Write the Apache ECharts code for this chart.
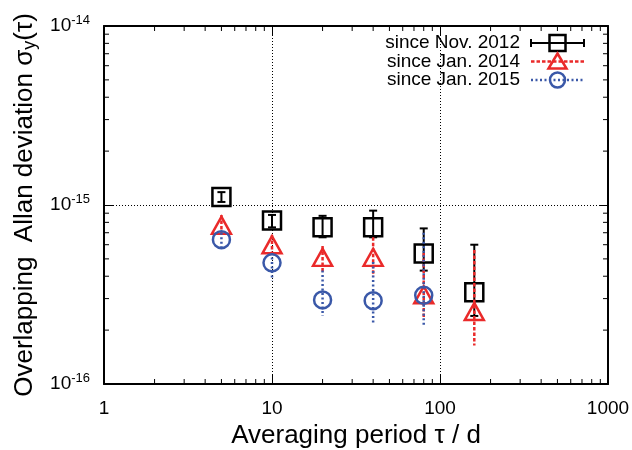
<!DOCTYPE html>
<html>
<head>
<meta charset="utf-8">
<title>Overlapping Allan deviation</title>
<script src="https://cdn.jsdelivr.net/npm/echarts@6/dist/echarts.min.js"></script>
<style>
  html, body { margin: 0; padding: 0; background: #fff; }
  #chart { width: 632px; height: 450px; }
</style>
</head>
<body>
<div id="chart"></div>
<script>
// Averaging periods (days)
const tau = [5, 10, 20, 40, 80, 160];
const tau2015 = [5, 10, 20, 40, 80];

// since Nov. 2012: value, lower and upper error limits
const nov2012 = [1.11e-15, 8.2e-16, 7.5e-16, 7.5e-16, 5.35e-16, 3.25e-16];
const nov2012Lo = [1.04e-15, 7.5e-16, 6.6e-16, 6.6e-16, 4.3e-16, 2.4e-16];
const nov2012Hi = [1.18e-15, 8.8e-16, 8.7e-16, 9.3e-16, 7.4e-16, 6.0e-16];

// since Jan. 2014
const jan2014 = [7.7e-16, 6.0e-16, 5.1e-16, 5.1e-16, 3.15e-16, 2.54e-16];
const jan2014Lo = [6.8e-16, 5.2e-16, 4.2e-16, 4.0e-16, 2.3e-16, 1.64e-16];
const jan2014Hi = [8.8e-16, 6.8e-16, 5.9e-16, 6.6e-16, 5.4e-16, 5.6e-16];

// since Jan. 2015
const jan2015 = [6.4e-16, 4.75e-16, 2.95e-16, 2.92e-16, 3.13e-16];
const jan2015Lo = [5.6e-16, 3.8e-16, 2.4e-16, 2.2e-16, 2.1e-16];
const jan2015Hi = [7.0e-16, 5.4e-16, 4.3e-16, 4.8e-16, 7.0e-16];

const seriesNames = ['since Nov. 2012', 'since Jan. 2014', 'since Jan. 2015'];

// Axis ranges
const xMin = 1, xMax = 1000;
const yMin = 1e-16, yMax = 1e-14;

const FONT = '"Liberation Sans", Arial, Helvetica, sans-serif';
const BLACK = '#000000';
const RED = '#ea2a2a';
const BLUE = '#3a58a8';

// minor tick values (2..9 per decade)
function minorValues(lo, hi) {
  const out = [];
  for (let d = Math.round(Math.log10(lo)); d < Math.round(Math.log10(hi)); d++) {
    for (let k = 2; k <= 9; k++) out.push(k * Math.pow(10, d));
  }
  return out;
}
const xMinorTicks = minorValues(xMin, xMax);
const yMinorTicks = minorValues(yMin, yMax);

function errorBarRenderer(lineStyle, capHalf) {
  return function (params, api) {
    const x = api.value(0);
    const lo = api.coord([x, api.value(1)]);
    const hi = api.coord([x, api.value(2)]);
    const children = [{
      type: 'line',
      shape: { x1: hi[0], y1: hi[1], x2: lo[0], y2: lo[1] },
      style: Object.assign({}, lineStyle)
    }];
    if (capHalf > 0) {
      [hi, lo].forEach(p => children.push({
        type: 'line',
        shape: { x1: p[0] - capHalf, y1: p[1], x2: p[0] + capHalf, y2: p[1] },
        style: { stroke: lineStyle.stroke, lineWidth: lineStyle.lineWidth }
      }));
    }
    return { type: 'group', children };
  };
}

const frameLine = { show: true, lineStyle: { color: BLACK, width: 2 } };
const majorTick = { show: true, inside: true, length: 9, lineStyle: { color: BLACK, width: 1 } };
const gridLine = { show: true, lineStyle: { color: BLACK, width: 1, type: [1, 2] } };

const styles = [
  { color: BLACK, line: { stroke: BLACK, lineWidth: 2 }, cap: 4, symbol: 'rect', size: 18 },
  { color: RED, line: { stroke: RED, lineWidth: 2.5, lineDash: [3.5, 2] }, cap: 0, symbol: 'triangle', size: [19, 17] },
  { color: BLUE, line: { stroke: BLUE, lineWidth: 2.5, lineDash: [2, 2.5] }, cap: 0, symbol: 'circle', size: 17 }
];

const groups = [
  { x: tau, y: nov2012, lo: nov2012Lo, hi: nov2012Hi },
  { x: tau, y: jan2014, lo: jan2014Lo, hi: jan2014Hi },
  { x: tau2015, y: jan2015, lo: jan2015Lo, hi: jan2015Hi }
];

const series = [];
groups.forEach((g, i) => {
  const s = styles[i];
  series.push({
    type: 'custom',
    name: seriesNames[i] + ' error',
    silent: true,
    z: 2 + i * 2,
    dimensions: ['tau', 'low', 'high'],
    encode: { x: 0, y: [1, 2] },
    data: g.x.map((t, k) => [t, g.lo[k], g.hi[k]]),
    renderItem: errorBarRenderer(s.line, s.cap)
  });
  series.push({
    type: 'scatter',
    name: seriesNames[i],
    silent: true,
    z: 3 + i * 2,
    symbol: s.symbol,
    symbolSize: s.size,
    itemStyle: { color: 'rgba(0,0,0,0)', borderColor: s.color, borderWidth: 2.5, opacity: 1 },
    data: g.x.map((t, k) => [t, g.y[k]])
  });
});

// Key in the upper right corner
const keyRight = 520, keyTop = 43, keyStep = 18.5, keyX0 = 531, keyX1 = 584;
const keyGraphics = [];
seriesNames.forEach((name, i) => {
  const s = styles[i];
  const y = keyTop + i * keyStep;
  const mid = (keyX0 + keyX1) / 2;
  keyGraphics.push({
    type: 'text', x: keyRight, y: y, z: 20,
    style: { text: name, font: '19px ' + FONT, fill: BLACK, align: 'right', verticalAlign: 'middle' }
  });
  keyGraphics.push({
    type: 'line', z: 20,
    shape: { x1: keyX0, y1: y, x2: keyX1, y2: y },
    style: Object.assign({}, s.line)
  });
  if (s.cap > 0) {
    [keyX0, keyX1].forEach(px => keyGraphics.push({
      type: 'line', z: 20,
      shape: { x1: px, y1: y - 4, x2: px, y2: y + 4 },
      style: { stroke: s.color, lineWidth: 2 }
    }));
  }
  let marker;
  if (s.symbol === 'rect') {
    marker = { type: 'rect', shape: { x: mid - 8, y: y - 8, width: 16, height: 16 } };
  } else if (s.symbol === 'triangle') {
    marker = { type: 'polygon', shape: { points: [[mid, y - 8], [mid + 9, y + 7], [mid - 9, y + 7]] } };
  } else {
    marker = { type: 'circle', shape: { cx: mid, cy: y, r: 7.5 } };
  }
  marker.z = 21;
  marker.style = { fill: 'none', stroke: s.color, lineWidth: 2.5 };
  keyGraphics.push(marker);
});

const chart = echarts.init(document.getElementById('chart'), null, { renderer: 'canvas' });
chart.setOption({
  animation: false,
  backgroundColor: '#ffffff',
  grid: { left: 104, right: 24, top: 26, bottom: 66, containLabel: false, outerBoundsMode: 'none' },
  xAxis: [{
    type: 'log', logBase: 10, min: xMin, max: xMax, position: 'bottom',
    axisLine: frameLine, axisTick: majorTick, splitLine: gridLine,
    axisLabel: { color: BLACK, fontFamily: FONT, fontSize: 19, margin: 15, formatter: v => String(Math.round(v)) },
    name: 'Averaging period τ / d', nameLocation: 'middle', nameGap: 37,
    nameTextStyle: { color: BLACK, fontFamily: FONT, fontSize: 26 }
  }, {
    type: 'log', logBase: 10, min: xMin, max: xMax, position: 'top',
    axisLine: frameLine, axisTick: majorTick, splitLine: { show: false },
    axisLabel: { show: false }
  }],
  yAxis: [{
    type: 'log', logBase: 10, min: yMin, max: yMax, position: 'left',
    axisLine: frameLine, axisTick: majorTick, splitLine: gridLine,
    axisLabel: {
      color: BLACK, fontFamily: FONT, fontSize: 19, margin: 14,
      formatter: v => '10{sup|' + Math.round(Math.log10(v)) + '}',
      rich: { sup: { fontFamily: FONT, fontSize: 13, verticalAlign: 'bottom', padding: [0, 0, 12, 0], color: BLACK } }
    },
    name: 'Overlapping  Allan deviation σ{sub|y}(τ)', nameLocation: 'middle', nameGap: 58,
    nameTextStyle: {
      color: BLACK, fontFamily: FONT, fontSize: 26,
      rich: { sub: { fontFamily: FONT, fontSize: 18, verticalAlign: 'top', padding: [10, 0, 0, 0], color: BLACK } }
    }
  }, {
    type: 'log', logBase: 10, min: yMin, max: yMax, position: 'right',
    axisLine: frameLine, axisTick: majorTick, splitLine: { show: false },
    axisLabel: { show: false }
  }],
  series: series,
  graphic: keyGraphics
});

// Minor ticks (2..9 per decade) on all four frame edges, placed through the axis scales
const MINOR_LEN = 5;
const minorGraphics = [];
function tickLine(x1, y1, x2, y2) {
  minorGraphics.push({
    type: 'line', z: 15, silent: true,
    shape: { x1, y1, x2, y2 },
    style: { stroke: BLACK, lineWidth: 1 }
  });
}
xMinorTicks.forEach(v => {
  const b = chart.convertToPixel({ gridIndex: 0 }, [v, yMin]);
  const t = chart.convertToPixel({ gridIndex: 0 }, [v, yMax]);
  tickLine(b[0], b[1], b[0], b[1] - MINOR_LEN);
  tickLine(t[0], t[1], t[0], t[1] + MINOR_LEN);
});
yMinorTicks.forEach(v => {
  const l = chart.convertToPixel({ gridIndex: 0 }, [xMin, v]);
  const r = chart.convertToPixel({ gridIndex: 0 }, [xMax, v]);
  tickLine(l[0], l[1], l[0] + MINOR_LEN, l[1]);
  tickLine(r[0], r[1], r[0] - MINOR_LEN, r[1]);
});
chart.setOption({ graphic: keyGraphics.concat(minorGraphics) });
</script>
</body>
</html>
